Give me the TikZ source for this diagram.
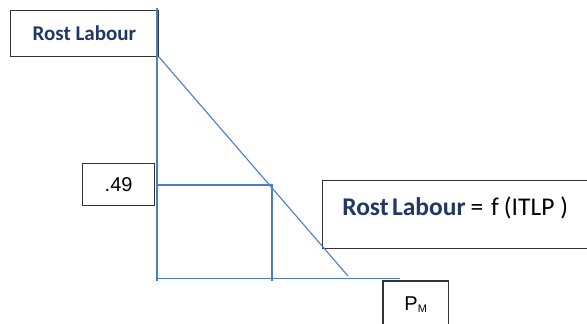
\documentclass[tikz,border=0pt]{standalone}
\usepackage{fontspec}
\setmainfont{Carlito}
\newfontfamily\arialf{Liberation Sans}
\definecolor{navy}{HTML}{1F3864}
\definecolor{axisblue}{HTML}{4A7EC7}
\definecolor{boxline}{HTML}{333333}
\begin{document}
\begin{tikzpicture}[x=1pt,y=-1pt,
  box/.style={draw=boxline, line width=1.3pt, inner sep=0pt, anchor=north west},
  axis/.style={draw=axisblue, line width=1.1pt}]
\useasboundingbox (0,0) rectangle (587,324);
% boxes
\node[box, minimum width=147.5pt, minimum height=46pt] (rl) at (10,9.5)
  {\fontsize{21}{24}\selectfont\bfseries\color{navy}Rost Labour};
\node[box, minimum width=72pt, minimum height=42pt] (val) at (82,163)
  {\arialf\fontsize{20}{24}\selectfont .49};
\node[box, inner xsep=19.7pt, text width=260pt, align=left,
  text height=35pt, text depth=33pt] (eq) at (322,180)
  {\fontsize{25.5}{28}\selectfont{\bfseries\color{navy}Rost Labour}\hspace{5pt}=\hspace{8pt}f\hspace{5pt}(ITLP\hspace{6pt})};
\node[box, minimum width=65.5pt, text height=30pt, text depth=25pt] (pm) at (382.3,280.3)
  {\arialf\fontsize{20}{24}\selectfont P\raisebox{-1.5pt}{\fontsize{11}{12}\selectfont M}};
% axes
\coordinate (ytop) at (157,8);
\coordinate (orig) at (157,281);
\coordinate (xend) at (400,278.7);
\coordinate (xstart) at (157,278.7);
\coordinate (dend) at (348,276);
\coordinate (pt) at (272,185);
\coordinate (ybase) at (157,185);
\coordinate (pfoot) at (272,281);
\draw[axis] (ytop) -- (orig);
\draw[axis] (xstart) -- (xend);
\draw[axis] (rl.south east) -- (dend);
\draw[axis] (ybase) -- (pt) -- (pfoot);
\end{tikzpicture}
\end{document}
